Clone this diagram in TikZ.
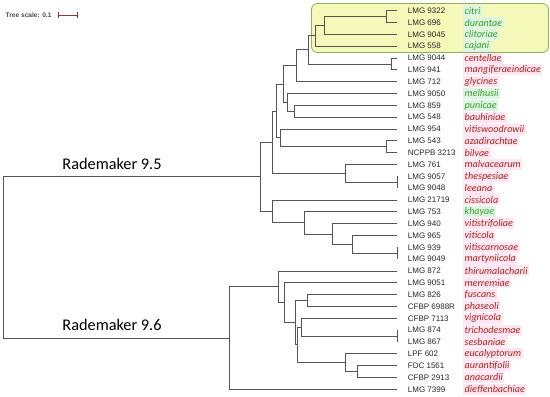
\documentclass[tikz,border=0pt]{standalone}
\usepackage{fontspec}
\setmainfont{Liberation Sans}
\newfontfamily\calfont{Carlito}
\usepackage{tikz}
\definecolor{branch}{HTML}{555555}
\definecolor{redsp}{HTML}{A8241A}
\definecolor{greensp}{HTML}{3E9E2C}
\definecolor{pinkbg}{HTML}{FFE6F2}
\definecolor{mintbg}{HTML}{DDF6E4}
\definecolor{cladefill}{HTML}{F4F8B8}
\definecolor{cladeedge}{HTML}{8FB15E}
\definecolor{scalebar}{HTML}{8B3A3A}
\tikzset{br/.style={draw=branch,line width=0.9pt},strain/.style={anchor=west,inner sep=0pt,font=\fontsize{8}{9}\selectfont,text=black!85},sp/.style={anchor=west,inner xsep=1.5pt,inner ysep=0pt,minimum height=11pt,font=\calfont\itshape\fontsize{10.1}{11}\selectfont},rd/.style={sp,fill=pinkbg,text=redsp},gr/.style={sp,fill=mintbg,text=greensp}}

\begin{document}
\begin{tikzpicture}[x=1pt,y=-1pt,
group/.style={font=\calfont\fontsize{16.3}{18}\selectfont,inner sep=0pt},
clade/.style={draw=cladeedge,fill=cladefill,line width=0.8pt,rounded corners=6pt}]
\useasboundingbox (0,0) rectangle (550,397);
\draw[clade] (311.5,3.5) rectangle (548.5,52.5);
\foreach \st/\sp/\kind [count=\i] in {LMG 9322/citri/gr,LMG 696/durantae/gr,LMG 9045/clitoriae/gr,LMG 558/cajani/gr,LMG 9044/centellae/rd,LMG 941/mangiferaeindicae/rd,LMG 712/glycines/rd,LMG 9050/melhusii/gr,LMG 859/punicae/gr,LMG 548/bauhiniae/rd,LMG 954/vitiswoodrowii/rd,LMG 543/azadirachtae/rd,NCPPB 3213/bilvae/rd,LMG 761/malvacearum/rd,LMG 9057/thespesiae/rd,LMG 9048/leeana/rd,LMG 21719/cissicola/rd,LMG 753/khayae/gr,LMG 940/vitistrifoliae/rd,LMG 965/viticola/rd,LMG 939/vitiscarnosae/rd,LMG 9049/martyniicola/rd,LMG 872/thirumalacharii/rd,LMG 9051/merremiae/rd,LMG 826/fuscans/rd,CFBP 6988R/phaseoli/rd,CFBP 7113/vignicola/rd,LMG 874/trichodesmae/rd,LMG 867/sesbaniae/rd,LPF 602/eucalyptorum/rd,FDC 1561/aurantifolii/rd,CFBP 2913/anacardii/rd,LMG 7399/dieffenbachiae/rd}{
\coordinate (t\i) at (397,{10.7+(\i-1)*11.83});
\node[strain] (s\i) at (407.7,{10.7+(\i-1)*11.83}) {\st};
\node[\kind] (p\i) at (463,{10.7+(\i-1)*11.83}) {\sp};
}
% internal nodes, Rademaker 9.5
\coordinate (n1) at (386,16.6);
\coordinate (n2) at (324.3,25.5);
\coordinate (n3) at (315,35.9);
\coordinate (n4) at (391.7,64);
\coordinate (n5) at (308.3,49.9);
\coordinate (n6) at (296.7,65.8);
\coordinate (n7) at (294.7,111.3);
\coordinate (n8) at (287.7,102.4);
\coordinate (n9) at (283.7,84.1);
\coordinate (n10) at (386,146.8);
\coordinate (n11) at (280,137.9);
\coordinate (n12) at (276.7,111);
\coordinate (n13) at (397,182.2);
\coordinate (n14) at (345,173.4);
\coordinate (n15) at (272.7,142.2);
\coordinate (n16) at (397,253.2);
\coordinate (n17) at (352.7,244.3);
\coordinate (n18) at (332.3,234);
\coordinate (n19) at (304,222.9);
\coordinate (n20) at (272.7,211.4);
\coordinate (n21) at (260.7,176.8);
% internal nodes, Rademaker 9.6
\coordinate (m1) at (307.3,300.5);
\coordinate (m2) at (397,336);
\coordinate (m3) at (301,327.1);
\coordinate (m4) at (357.3,371.5);
\coordinate (m5) at (345,362.6);
\coordinate (m6) at (297.7,344.9);
\coordinate (m7) at (295.7,322.7);
\coordinate (m8) at (284.3,302.7);
\coordinate (m9) at (278.3,286.8);
\coordinate (m10) at (229.7,338);
\coordinate (root) at (3,257.4);
\draw[br] (n1) |- (t1) (n1) |- (t2);
\draw[br] (n2) |- (n1) (n2) |- (t3);
\draw[br] (n3) |- (n2) (n3) |- (t4);
\draw[br] (n4) |- (t5) (n4) |- (t6);
\draw[br] (n5) |- (n3) (n5) |- (n4);
\draw[br] (n6) |- (n5) (n6) |- (t7);
\draw[br] (n7) |- (t9) (n7) |- (t10);
\draw[br] (n8) |- (t8) (n8) |- (n7);
\draw[br] (n9) |- (n6) (n9) |- (n8);
\draw[br] (n10) |- (t12) (n10) |- (t13);
\draw[br] (n11) |- (t11) (n11) |- (n10);
\draw[br] (n12) |- (n9) (n12) |- (n11);
\draw[br] (n13) |- (t15) (n13) |- (t16);
\draw[br] (n14) |- (t14) (n14) |- (n13);
\draw[br] (n15) |- (n12) (n15) |- (n14);
\draw[br] (n16) |- (t21) (n16) |- (t22);
\draw[br] (n17) |- (t20) (n17) |- (n16);
\draw[br] (n18) |- (t19) (n18) |- (n17);
\draw[br] (n19) |- (t18) (n19) |- (n18);
\draw[br] (n20) |- (t17) (n20) |- (n19);
\draw[br] (n21) |- (n15) (n21) |- (n20);
\draw[br] (m1) |- (t25) (m1) |- (t26);
\draw[br] (m2) |- (t28) (m2) |- (t29);
\draw[br] (m3) |- (t27) (m3) |- (m2);
\draw[br] (m4) |- (t31) (m4) |- (t32);
\draw[br] (m5) |- (t30) (m5) |- (m4);
\draw[br] (m6) |- (m3) (m6) |- (m5);
\draw[br] (m7) |- (m1) (m7) |- (m6);
\draw[br] (m8) |- (t24) (m8) |- (m7);
\draw[br] (m9) |- (t23) (m9) |- (m8);
\draw[br] (m10) |- (m9) (m10) |- (t33);
\draw[br] (root) |- (n21) (root) |- (m10);
\node[group] (r95) at (112,164) {Rademaker 9.5};
\node[group] (r96) at (112,325) {Rademaker 9.6};
\node[anchor=west,inner sep=0pt,font=\bfseries\fontsize{6.6}{8}\selectfont,text=black!70] (scale) at (5.5,15) {Tree scale: 0.1};
\coordinate (sb1) at (58.3,15);
\coordinate (sb2) at (77.3,15);
\draw[draw=scalebar,line width=0.5pt,|-|] (sb1) -- (sb2);
\end{tikzpicture}
\end{document}
